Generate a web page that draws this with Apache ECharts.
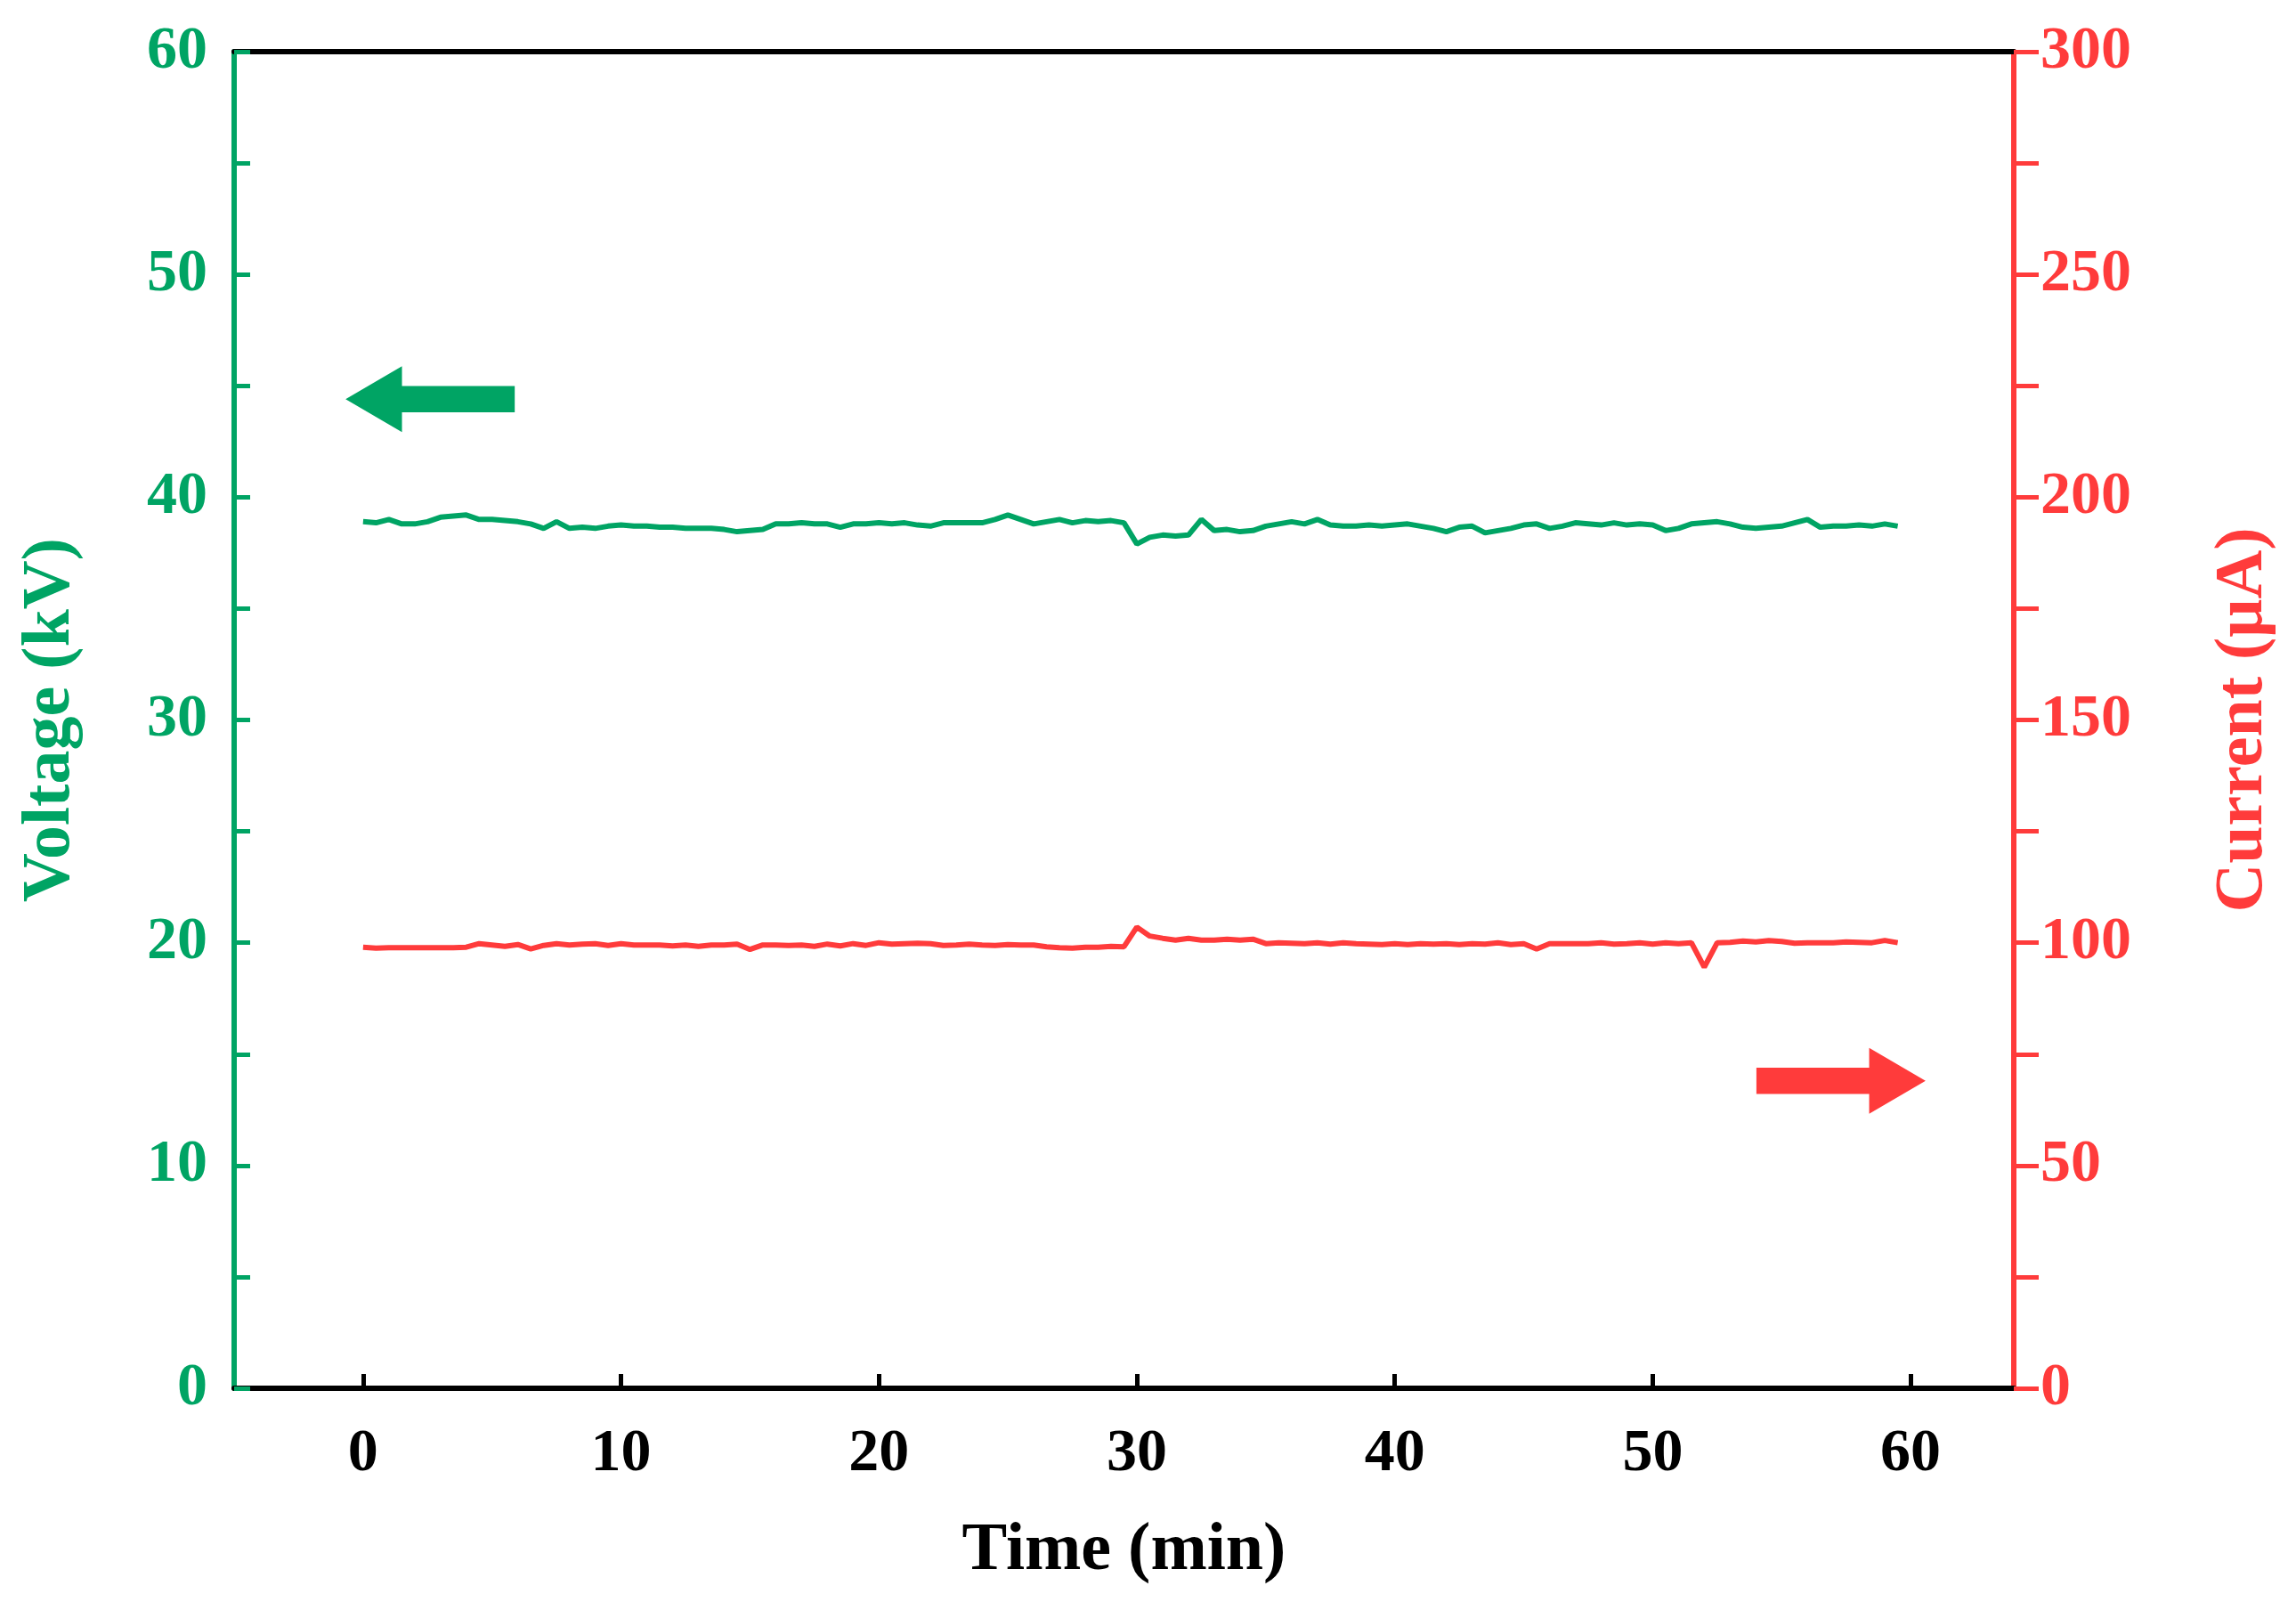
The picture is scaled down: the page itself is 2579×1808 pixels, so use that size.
<!DOCTYPE html>
<html>
<head>
<meta charset="utf-8">
<script src="https://cdn.jsdelivr.net/npm/echarts@6/dist/echarts.min.js"></script>
<style>html,body{margin:0;background:#fff}#chart{width:2579px;height:1808px}</style>
</head>
<body>
<div id="chart"></div>
<script>
var times = [];
for (var i = 0; i < 120; i++) times.push(i * 0.5);

var voltage = [38.9,38.85,39.0,38.8,38.8,38.9,39.1,39.15,39.2,39.0,39.0,38.95,38.9,38.8,38.6,38.9,
38.6,38.65,38.6,38.7,38.75,38.7,38.7,38.65,38.65,38.6,38.6,38.6,38.55,38.45,38.5,38.55,
38.8,38.8,38.85,38.8,38.8,38.65,38.8,38.8,38.85,38.8,38.85,38.75,38.7,38.85,38.85,38.85,
38.85,39.0,39.2,39.0,38.8,38.9,39.0,38.85,38.95,38.9,38.95,38.85,37.9,38.2,38.3,38.25,
38.3,39.0,38.5,38.55,38.45,38.5,38.7,38.8,38.9,38.8,39.0,38.75,38.7,38.7,38.75,38.7,
38.75,38.8,38.7,38.6,38.45,38.65,38.7,38.4,38.5,38.6,38.75,38.8,38.6,38.7,38.85,38.8,
38.75,38.85,38.75,38.8,38.75,38.5,38.6,38.8,38.85,38.9,38.8,38.65,38.6,38.65,38.7,38.85,
39.0,38.65,38.7,38.7,38.75,38.7,38.8,38.7];

var current = [99,98.8,98.9,98.9,98.9,98.9,98.9,98.9,
99,99.8,99.5,99.2,99.6,98.6,99.4,99.8,
99.5,99.7,99.8,99.4,99.8,99.5,99.5,99.5,
99.3,99.5,99.2,99.5,99.5,99.7,98.5,99.5,
99.5,99.4,99.5,99.2,99.7,99.3,99.8,99.4,
100,99.7,99.8,99.9,99.8,99.4,99.5,99.7,
99.5,99.4,99.6,99.5,99.5,99.1,98.9,98.8,
99,99,99.2,99.1,103.5,101.5,101,100.6,
101,100.6,100.6,100.8,100.6,100.8,99.8,100,
99.9,99.8,100,99.7,100,99.8,99.7,99.6,
99.8,99.6,99.8,99.7,99.8,99.6,99.8,99.7,
100,99.6,99.8,98.6,99.8,99.8,99.8,99.8,
100,99.7,99.8,100,99.7,100,99.8,100,
94.5,100,100.1,100.4,100.2,100.5,100.3,99.9,
100,100,100,100.2,100.1,100,100.5,100];

var green = '#00a464', red = '#ff3b3b';
var font = 'Liberation Serif';
var arrowPath = 'path://M0,10 L10,0 L10,6 L30,6 L30,14 L10,14 L10,20 Z';

var chart = echarts.init(document.getElementById('chart'));
chart.setOption({
  animation: false,
  grid: { left: 263, right: 317, top: 58, bottom: 249, outerBoundsMode: 'none' },
  xAxis: [{
    type: 'value', min: -5, max: 64, interval: 10,
    name: 'Time (min)', nameLocation: 'middle', nameGap: 145,
    nameTextStyle: { fontFamily: font, fontWeight: 'bold', fontSize: 76, color: '#000' },
    axisLine: { onZero: false, lineStyle: { color: '#000', width: 6 } },
    axisTick: { inside: true, length: 16, lineStyle: { width: 5, color: '#000' }, customValues: [0,10,20,30,40,50,60] },
    axisLabel: { fontFamily: font, fontWeight: 'bold', fontSize: 68, color: '#000', margin: 40,
      customValues: [0,10,20,30,40,50,60] },
    splitLine: { show: false }
  }, {
    type: 'value', min: -5, max: 64, position: 'top',
    axisLine: { show: true, onZero: false, lineStyle: { color: '#000', width: 6 } },
    axisTick: { show: false }, axisLabel: { show: false }, splitLine: { show: false }
  }],
  yAxis: [{
    type: 'value', min: 0, max: 60, interval: 10,
    name: 'Voltage (kV)', nameLocation: 'middle', nameGap: 168, nameRotate: 90,
    nameTextStyle: { fontFamily: font, fontWeight: 'bold', fontSize: 76, color: green },
    axisLine: { show: true, onZero: false, lineStyle: { color: green, width: 6 } },
    axisTick: { inside: true, length: 18, lineStyle: { width: 5, color: green } },
    minorTick: { show: true, splitNumber: 2, length: 18, lineStyle: { width: 5, color: green } },
    axisLabel: { fontFamily: font, fontWeight: 'bold', fontSize: 68, color: green, margin: 30 },
    splitLine: { show: false }
  }, {
    type: 'value', min: 0, max: 300, interval: 50, position: 'right',
    name: 'Current (μA)', nameLocation: 'middle', nameGap: 220, nameRotate: 90,
    nameTextStyle: { fontFamily: font, fontWeight: 'bold', fontSize: 76, color: red },
    axisLine: { show: true, onZero: false, lineStyle: { color: red, width: 6 } },
    axisTick: { length: 28, lineStyle: { width: 5, color: red } },
    minorTick: { show: true, splitNumber: 2, length: 28, lineStyle: { width: 5, color: red } },
    axisLabel: { fontFamily: font, fontWeight: 'bold', fontSize: 68, color: red, margin: 30 },
    splitLine: { show: false }
  }],
  series: [{
    name: 'Voltage', type: 'line', yAxisIndex: 0, showSymbol: false,
    data: times.map(function (t, i) { return [t, voltage[i]]; }),
    lineStyle: { color: green, width: 6 }, itemStyle: { color: green },
    markPoint: { silent: true, symbol: arrowPath, symbolSize: [190, 74], label: { show: false },
      itemStyle: { color: green }, data: [{ coord: [2.6, 44.4] }] }
  }, {
    name: 'Current', type: 'line', yAxisIndex: 1, showSymbol: false,
    data: times.map(function (t, i) { return [t, current[i]]; }),
    lineStyle: { color: red, width: 6 }, itemStyle: { color: red },
    markPoint: { silent: true, symbol: arrowPath, symbolSize: [190, 74], symbolRotate: 180, label: { show: false },
      itemStyle: { color: red }, data: [{ coord: [57.3, 69] }] }
  }]
});
</script>
</body>
</html>
